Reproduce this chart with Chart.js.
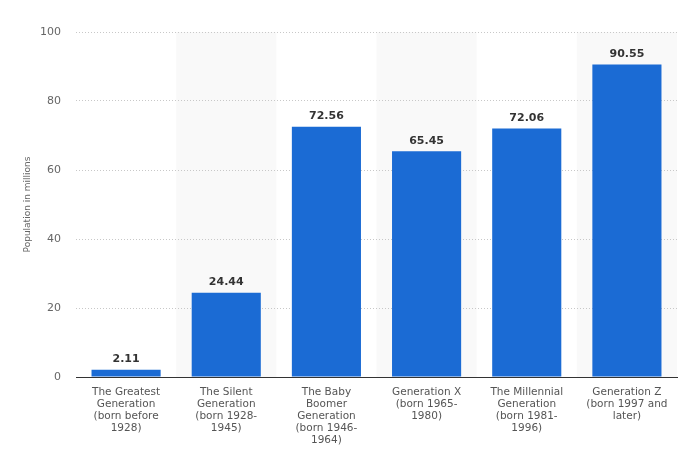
<!DOCTYPE html>
<html>
<head>
<meta charset="utf-8">
<script src="https://cdn.jsdelivr.net/npm/chart.js@4"></script>
<style>
  html, body { margin: 0; padding: 0; background: #fff; }
  #wrap { width: 687px; height: 469px; }
</style>
</head>
<body>
<div id="wrap"><canvas id="genChart" width="687" height="469"></canvas></div>
<script>
// categories, split into lines like the reference
var categories = [
    ['The Greatest', 'Generation', '(born before', '1928)'],
    ['The Silent', 'Generation', '(born 1928-', '1945)'],
    ['The Baby', 'Boomer', 'Generation', '(born 1946-', '1964)'],
    ['Generation X', '(born 1965-', '1980)'],
    ['The Millennial', 'Generation', '(born 1981-', '1996)'],
    ['Generation Z', '(born 1997 and', 'later)']
];
var population = [2.11, 24.44, 72.56, 65.45, 72.06, 90.55];
var yTicks = [0, 20, 40, 60, 80, 100];

var fontFamily = '"DejaVu Sans", sans-serif';

// shaded background behind every second category
var bandPlugin = {
    id: 'bands',
    beforeDraw(chart) {
        var ctx = chart.ctx, x = chart.scales.x, area = chart.chartArea;
        var step = area.width / categories.length;
        ctx.save();
        ctx.fillStyle = '#f9f9f9';
        for (var i = 1; i < categories.length; i += 2) {
            var cx = x.getPixelForValue(i);
            ctx.fillRect(cx - step / 2, area.top, step, area.bottom - area.top);
        }
        ctx.restore();
    }
};

// value labels above the bars
var valueLabels = {
    id: 'valueLabels',
    afterDatasetsDraw(chart) {
        var ctx = chart.ctx;
        var meta = chart.getDatasetMeta(0);
        ctx.save();
        ctx.font = 'bold 11px ' + fontFamily;
        ctx.fillStyle = '#333';
        ctx.textAlign = 'center';
        ctx.textBaseline = 'bottom';
        meta.data.forEach((bar, i) => {
            ctx.fillText(population[i].toFixed(2), bar.x, bar.y - 5);
        });
        ctx.restore();
    }
};

new Chart(document.getElementById('genChart'), {
    type: 'bar',
    data: {
        labels: categories,
        datasets: [{
            data: population,
            backgroundColor: '#1b6bd4',
            barPercentage: 0.69,
            categoryPercentage: 1
        }]
    },
    options: {
        responsive: false,
        animation: false,
        layout: { padding: { top: 32, right: 10, left: 0, bottom: 0 } },
        plugins: {
            legend: { display: false },
            tooltip: { enabled: false }
        },
        scales: {
            x: {
                grid: { display: false, drawTicks: false },
                border: { color: '#333', width: 1 },
                ticks: {
                    color: '#555',
                    padding: 9,
                    maxRotation: 0,
                    autoSkip: false,
                    font: { family: fontFamily, size: 10.5, lineHeight: 1.15 }
                },
                afterFit(s) { s.height = 92; }
            },
            y: {
                min: 0,
                max: 100,
                afterBuildTicks(s) { s.ticks = yTicks.map(v => ({ value: v })); },
                grid: { color: '#c8c8c8', drawTicks: false },
                border: { display: false, dash: [1, 2] },
                ticks: {
                    color: '#666',
                    padding: 15,
                    font: { family: fontFamily, size: 11 }
                },
                title: {
                    display: true,
                    text: 'Population in millions',
                    color: '#666',
                    padding: { top: 22, bottom: 0 },
                    font: { family: fontFamily, size: 9 }
                },
                afterFit(s) { s.width = 76; }
            }
        }
    },
    plugins: [bandPlugin, valueLabels]
});
</script>
</body>
</html>
